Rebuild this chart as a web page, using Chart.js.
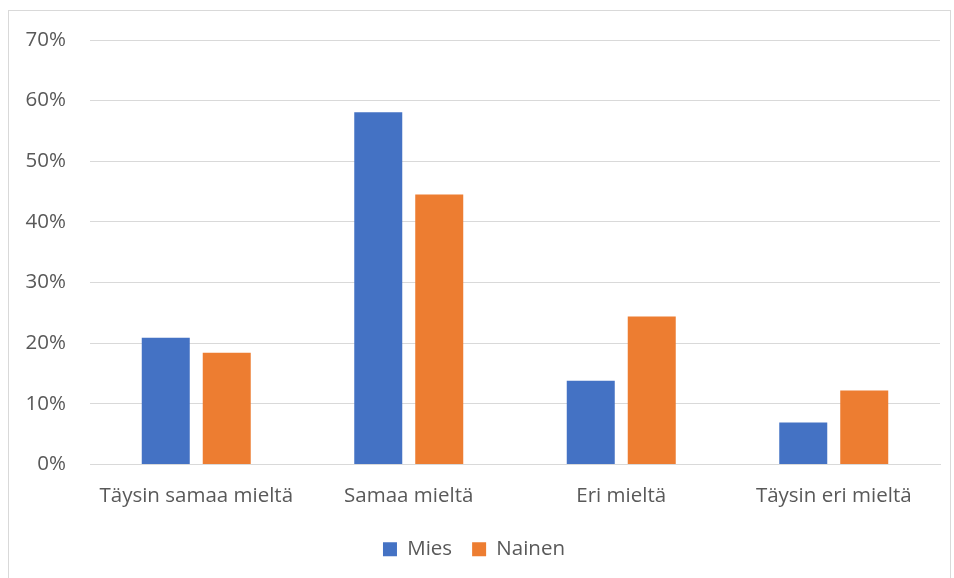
<!DOCTYPE html>
<html>
<head>
<meta charset="utf-8">
<script src="https://cdn.jsdelivr.net/npm/chart.js@4"></script>
<style>
  html, body { margin: 0; padding: 0; background: #fff; overflow: hidden; }
  #frame { position: absolute; left: 8px; top: 10px; width: 941px; height: 600px; border: 1px solid #d9d9d9; }
  #wrap { position: absolute; left: 0; top: 0; width: 954px; height: 578px; }
</style>
</head>
<body>
<div id="frame"></div>
<div id="wrap"><canvas id="chart"></canvas></div>
<script>
// Answer categories
const categories = ['Täysin samaa mieltä', 'Samaa mieltä', 'Eri mieltä', 'Täysin eri mieltä'];
// Share of respondents (%)
const mies = [20.9, 58.1, 13.8, 6.9];
const nainen = [18.4, 44.5, 24.4, 12.2];

Chart.defaults.font.family = "'Open Sans', 'Liberation Sans', sans-serif";
Chart.defaults.color = '#595959';

const ctx = document.getElementById('chart').getContext('2d');
new Chart(ctx, {
  type: 'bar',
  data: {
    labels: categories,
    datasets: [
      { label: 'Mies', data: mies, backgroundColor: '#4472c4', categoryPercentage: 0.574, barPercentage: 0.787 },
      { label: 'Nainen', data: nainen, backgroundColor: '#ed7d31', categoryPercentage: 0.574, barPercentage: 0.787 },
    ],
  },
  options: {
    responsive: true,
    maintainAspectRatio: false,
    animation: false,
    layout: { padding: { left: 8, right: 14, top: 40, bottom: 8.5 } },
    plugins: {
      tooltip: { enabled: false },
      legend: {
        position: 'bottom',
        labels: { boxWidth: 14, boxHeight: 14, font: { size: 20.5 }, padding: 20 },
      },
    },
    scales: {
      x: {
        grid: { display: false },
        border: { color: '#d9d9d9' },
        ticks: { font: { size: 20.5 }, padding: 11, maxRotation: 0 },
      },
      y: {
        min: 0,
        max: 70,
        grid: { color: '#d9d9d9', drawTicks: false },
        border: { display: false },
        ticks: { stepSize: 10, font: { size: 20.5 }, padding: 24, callback: v => v + '%' },
        afterFit: s => { s.width = 82; },
      },
    },
  },
});
</script>
</body>
</html>
